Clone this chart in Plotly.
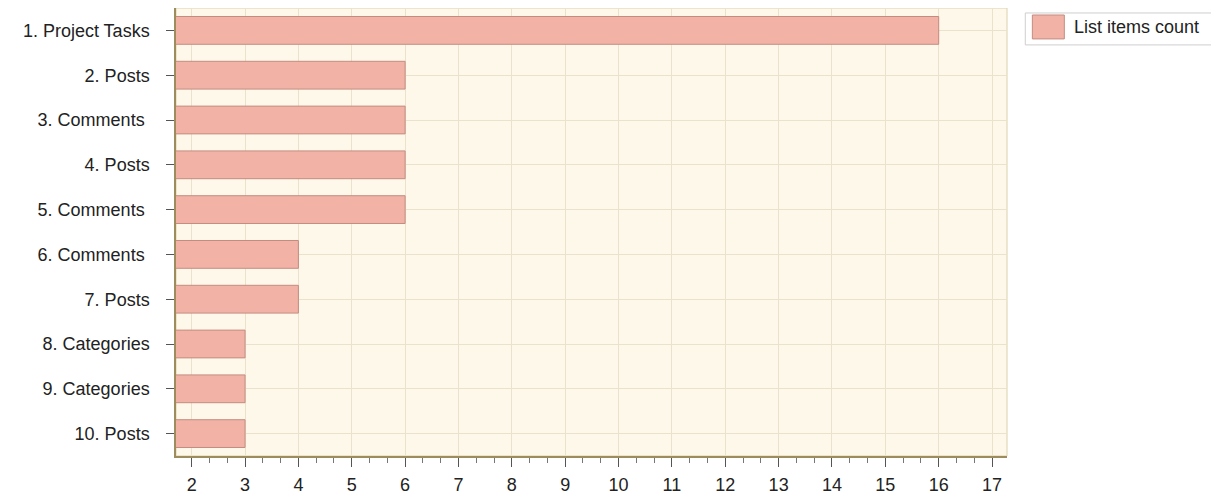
import plotly.graph_objects as go

categories = ["1. Project Tasks", "2. Posts", "3. Comments\u00a0", "4. Posts", "5. Comments\u00a0",
              "6. Comments\u00a0", "7. Posts", "8. Categories", "9. Categories", "10. Posts"]
counts = [16, 6, 6, 6, 6, 4, 4, 3, 3, 3]
series_name = "List items count"
x_ticks = list(range(2, 18))

bar_fill = "#F2B2A6"
bar_line = "#C48C80"

fig = go.Figure()
fig.add_trace(go.Bar(
    y=categories, x=counts, orientation="h", name=series_name,
    marker=dict(color=bar_fill, line=dict(color=bar_line, width=1)),
    width=0.62, showlegend=False,
))

# page body adds an 8px margin; the figure is sized so that it fills 1219x497
fig.update_layout(
    width=1211, height=489,
    margin=dict(l=168, r=212, t=0, b=41, autoexpand=False),
    paper_bgcolor="white",
    plot_bgcolor="#FDF8EA",
    font=dict(family="Liberation Sans, Arial, sans-serif", size=18, color="#222222"),
    shapes=[
        dict(type="rect", xref="paper", yref="paper", x0=0, x1=1, y0=0, y1=1,
             line=dict(color="#DCD0AE", width=1), layer="below"),
        dict(type="rect", xref="paper", yref="paper", x0=1.0220, x1=1.2520, y0=0.9176, y1=0.9889,
             line=dict(color="#CFCFCF", width=1), fillcolor="white"),
        dict(type="rect", xref="paper", yref="paper", x0=1.0305, x1=1.0690, y0=0.9310, y1=0.9844,
             line=dict(color="#C48C80", width=1), fillcolor=bar_fill),
    ],
    annotations=[
        dict(xref="paper", yref="paper", x=1.0786, y=0.9577, text=series_name, showarrow=False,
             xanchor="left", yanchor="middle", font=dict(size=18, color="#222222")),
    ],
)

fig.update_xaxes(
    range=[1.706, 17.28], tickvals=x_ticks, ticktext=[str(v) for v in x_ticks],
    showgrid=True, gridcolor="#EAE2CB", gridwidth=1,
    showline=True, linecolor="#9E8C5C", linewidth=1.5,
    ticks="outside", ticklen=9, tickcolor="#555555", tickwidth=1,
    minor=dict(dtick=1/3, tick0=2, ticks="outside", ticklen=5, tickcolor="#777777", showgrid=False),
    ticklabelstandoff=3,
    tickfont=dict(size=18), zeroline=False,
)
fig.update_yaxes(
    autorange=False, range=[9.5, -0.5],
    showgrid=True, gridcolor="#EAE2CB", gridwidth=1,
    showline=True, linecolor="#9E8C5C", linewidth=1.5,
    ticks="outside", ticklen=8, tickcolor="#555555", tickwidth=1,
    ticklabelstandoff=13,
    tickfont=dict(size=18),
)

fig.write_html("out.html")
